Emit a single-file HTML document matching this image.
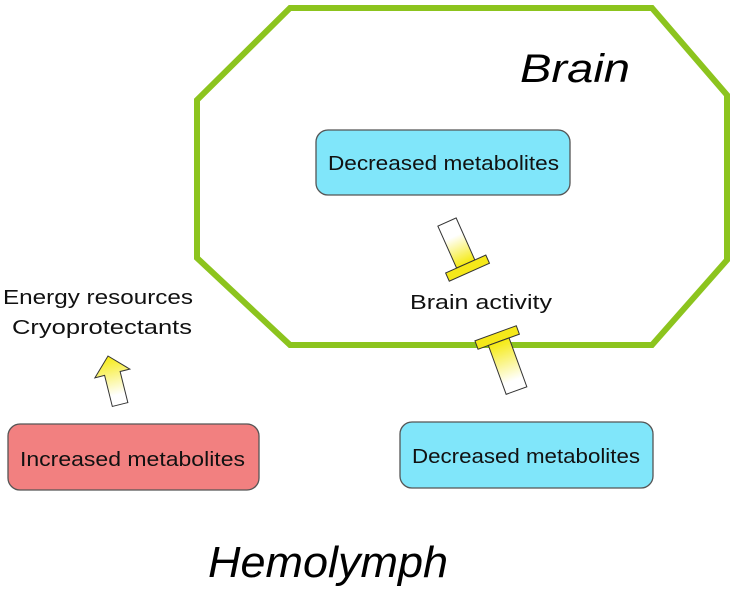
<!DOCTYPE html>
<html><head><style>
body{margin:0;background:#fff;}
svg{display:block;font-family:"Liberation Sans","DejaVu Sans",sans-serif;}
</style></head><body>
<svg width="732" height="590" viewBox="0 0 732 590" xmlns="http://www.w3.org/2000/svg">
<defs>
<linearGradient id="g" x1="0" y1="0" x2="0" y2="1">
<stop offset="0" stop-color="#ffffff"/><stop offset="0.35" stop-color="#ffffff"/><stop offset="1" stop-color="#f5ea10"/>
</linearGradient>
<linearGradient id="g2" x1="0" y1="1" x2="0" y2="0">
<stop offset="0" stop-color="#ffffff"/><stop offset="0.2" stop-color="#ffffff"/><stop offset="1" stop-color="#f5ea10"/>
</linearGradient>
</defs>
<polygon points="290,8 652,8 727,95 727,260 652,345 290,345 197,258 197,100" fill="none" stroke="#8cc41e" stroke-width="6"/>
<text x="520" y="82" font-size="40" font-style="italic" fill="#000" textLength="110" lengthAdjust="spacingAndGlyphs">Brain</text>
<rect x="316" y="130" width="254" height="65" rx="12" fill="#80e6fa" stroke="#555" stroke-width="1.3"/>
<text x="328" y="170" font-size="20" fill="#111" textLength="231" lengthAdjust="spacingAndGlyphs">Decreased metabolites</text>
<g transform="translate(447,222) rotate(-24)">
<rect x="-10" y="0" width="20" height="46" fill="url(#g)" stroke="#333" stroke-width="1"/>
<rect x="-22" y="46" width="44" height="9" fill="#f5e81a" stroke="#333" stroke-width="1"/>
</g>
<text x="410" y="309" font-size="20" fill="#111" textLength="142" lengthAdjust="spacingAndGlyphs">Brain activity</text>
<g transform="translate(497,337) rotate(-20)">
<rect x="-22" y="-4" width="44" height="9" fill="#f5e81a" stroke="#333" stroke-width="1"/>
<rect x="-11" y="5" width="22" height="52" fill="url(#g2)" stroke="#333" stroke-width="1"/>
</g>
<text x="3" y="304" font-size="20" fill="#111" textLength="190" lengthAdjust="spacingAndGlyphs">Energy resources</text>
<text x="12" y="334" font-size="20" fill="#111" textLength="180" lengthAdjust="spacingAndGlyphs">Cryoprotectants</text>
<g transform="translate(108,356) rotate(-14)">
<polygon points="0,0 18,18 8,18 8,50 -8,50 -8,18 -18,18" fill="url(#g2)" stroke="#333" stroke-width="1"/>
</g>
<rect x="8" y="424" width="251" height="66" rx="12" fill="#f28080" stroke="#555" stroke-width="1.3"/>
<text x="20" y="466" font-size="20" fill="#111" textLength="225" lengthAdjust="spacingAndGlyphs">Increased metabolites</text>
<rect x="400" y="422" width="253" height="66" rx="12" fill="#80e6fa" stroke="#555" stroke-width="1.3"/>
<text x="412" y="463" font-size="20" fill="#111" textLength="228" lengthAdjust="spacingAndGlyphs">Decreased metabolites</text>
<text x="208" y="577" font-size="44" font-style="italic" fill="#000" textLength="240" lengthAdjust="spacingAndGlyphs">Hemolymph</text>
</svg>
</body></html>
